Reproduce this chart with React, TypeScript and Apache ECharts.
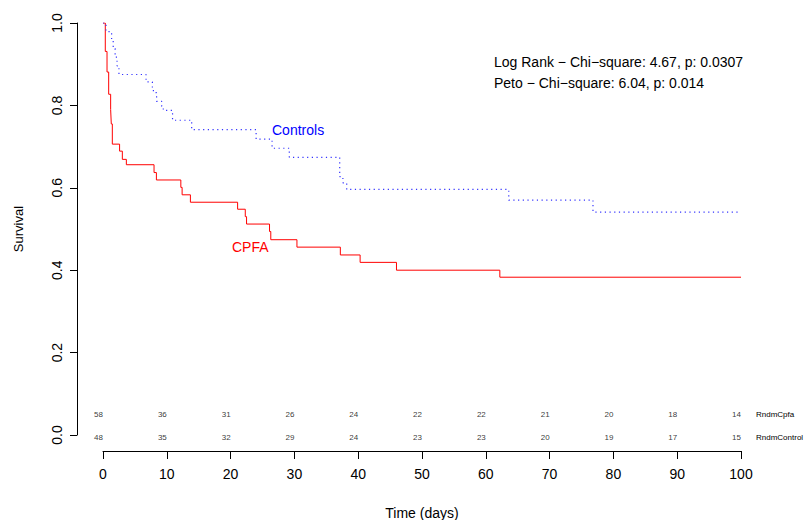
import React, { useEffect, useRef } from "react";
import * as echarts from "echarts";

// Kaplan-Meier steps: [time (days), survival]
const cpfaTimes = [0, 0.36, 0.63, 0.89, 1.2, 1.3, 1.46, 2.6, 3.03, 3.66, 8.0, 8.37, 12.2, 12.4, 13.7, 21.1, 22.3, 22.5, 26.1, 26.3, 30.4, 37.2, 40.3, 46.0, 62.2, 100];
const cpfaSurv = [1, 0.931, 0.881, 0.827, 0.79, 0.755, 0.706, 0.689, 0.669, 0.656, 0.637, 0.619, 0.601, 0.583, 0.565, 0.548, 0.53, 0.512, 0.494, 0.474, 0.456, 0.437, 0.419, 0.4, 0.383, 0.383];

const ctrlTimes = [0, 0.47, 1.35, 1.6, 1.9, 2.2, 2.5, 6.75, 7.74, 7.9, 8.4, 9.2, 9.45, 10.9, 13.9, 24.0, 26.5, 29.2, 37.1, 37.6, 38.2, 63.6, 76.8, 100];
const ctrlSurv = [1, 0.979, 0.958, 0.938, 0.917, 0.896, 0.875, 0.857, 0.842, 0.831, 0.81, 0.798, 0.788, 0.764, 0.741, 0.718, 0.696, 0.674, 0.627, 0.612, 0.596, 0.57, 0.541, 0.541];

// numbers at risk
const riskTimes = [0, 10, 20, 30, 40, 50, 60, 70, 80, 90, 100];
const atRiskCpfa = [58, 36, 31, 26, 24, 22, 22, 21, 20, 18, 14];
const atRiskControl = [48, 35, 32, 29, 24, 23, 23, 20, 19, 17, 15];
const riskRowNames = ["RndmCpfa", "RndmControl"];

const statLines = [
  "Log Rank \u2212 Chi\u2212square: 4.67, p: 0.0307",
  "Peto \u2212 Chi\u2212square: 6.04, p: 0.014",
];

const FONT = '"Liberation Sans", Arial, Helvetica, sans-serif';

export default function App() {
  const ref = useRef<HTMLDivElement>(null);
  useEffect(() => {
    document.body.style.margin = "0";
    const chart = echarts.init(ref.current!, null, { renderer: "svg" });
    const cpfaData = cpfaTimes.map((t, i) => [t, cpfaSurv[i]]);
    const ctrlData = ctrlTimes.map((t, i) => [t, ctrlSurv[i]]);
    const row1 = riskTimes.map((t, i) => [t, 0.049, atRiskCpfa[i]]);
    const row2 = riskTimes.map((t, i) => [t, -0.006, atRiskControl[i]]);
    const riskLabel = {
      show: true,
      position: [0, 0] as any,
      align: "right",
      verticalAlign: "middle",
      fontSize: 8,
      fontFamily: FONT,
      color: "#000",
      formatter: (p: any) => String(p.value[2]),
    };
    chart.setOption({
      animation: false,
      backgroundColor: "#fff",
      textStyle: { fontFamily: FONT },
      grid: {
        left: 103,
        top: 23,
        width: 638,
        height: 412,
        containLabel: false,
        outerBoundsMode: "none",
      },
      xAxis: {
        type: "value",
        min: 0,
        max: 100,
        interval: 10,
        offset: 16,
        axisLine: { show: true, onZero: false, lineStyle: { color: "#000", width: 1 } },
        axisTick: { show: true, length: 8, lineStyle: { color: "#000" } },
        axisLabel: { fontSize: 14, color: "#000", margin: 16, fontFamily: FONT },
        splitLine: { show: false },
        name: "Time (days)",
        nameLocation: "middle",
        nameGap: 55,
        nameTextStyle: { fontSize: 14, color: "#000", fontFamily: FONT },
      },
      yAxis: {
        type: "value",
        min: 0,
        max: 1,
        interval: 0.2,
        offset: 26,
        axisLine: { show: true, onZero: false, lineStyle: { color: "#000", width: 1 } },
        axisTick: { show: true, length: 7, lineStyle: { color: "#000" } },
        axisLabel: {
          fontSize: 14,
          color: "#000",
          rotate: 90,
          margin: 13,
          fontFamily: FONT,
          formatter: (v: number) => v.toFixed(1),
        },
        splitLine: { show: false },
        name: "Survival",
        nameLocation: "middle",
        nameRotate: 90,
        nameGap: 52,
        nameTextStyle: { fontSize: 13, color: "#000", fontFamily: FONT },
      },
      series: [
        {
          name: "CPFA",
          type: "line",
          step: "end",
          data: cpfaData,
          showSymbol: false,
          symbol: "none",
          lineStyle: { color: "#ff0000", width: 1 },
        },
        {
          name: "Controls",
          type: "line",
          step: "end",
          data: ctrlData,
          showSymbol: false,
          symbol: "none",
          lineStyle: { color: "#3333ff", width: 1.2, type: [1.2, 3.5] },
        },
        {
          type: "scatter",
          data: row1,
          symbolSize: 0,
          clip: false,
          silent: true,
          label: riskLabel,
        },
        {
          type: "scatter",
          data: row2,
          symbolSize: 0,
          clip: false,
          silent: true,
          label: riskLabel,
        },
      ],
      graphic: [
        {
          type: "text",
          left: 494,
          top: 55,
          style: { text: statLines[0], fontSize: 14, fill: "#000", fontFamily: FONT },
        },
        {
          type: "text",
          left: 494,
          top: 76,
          style: { text: statLines[1], fontSize: 14, fill: "#000", fontFamily: FONT },
        },
        {
          type: "text",
          left: 272,
          top: 123,
          style: { text: "Controls", fontSize: 14, fill: "#0000ff", fontFamily: FONT },
        },
        {
          type: "text",
          left: 232,
          top: 240,
          style: { text: "CPFA", fontSize: 14, fill: "#ff0000", fontFamily: FONT },
        },
        {
          type: "text",
          left: 756,
          top: 410,
          style: { text: riskRowNames[0], fontSize: 8, fill: "#000", fontFamily: FONT },
        },
        {
          type: "text",
          left: 756,
          top: 433,
          style: { text: riskRowNames[1], fontSize: 8, fill: "#000", fontFamily: FONT },
        },
      ],
    });
    return () => chart.dispose();
  }, []);
  return (
    <div
      ref={ref}
      style={{ position: "absolute", left: 0, top: 0, width: 806, height: 520, background: "#fff" }}
    />
  );
}
